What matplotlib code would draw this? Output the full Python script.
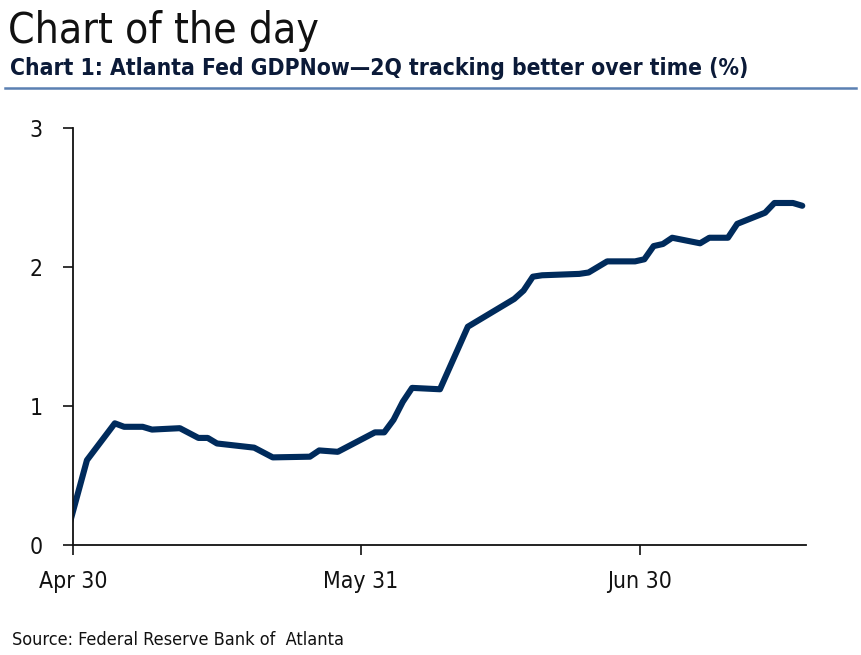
import pandas as pd
import matplotlib
matplotlib.use("Agg")
import matplotlib.pyplot as plt

# GDPNow 2Q estimate, by update date (%)
dates = ["2019-04-29", "2019-05-01", "2019-05-04", "2019-05-05", "2019-05-07",
         "2019-05-08", "2019-05-11", "2019-05-13", "2019-05-14", "2019-05-15",
         "2019-05-19", "2019-05-21", "2019-05-25", "2019-05-26", "2019-05-28",
         "2019-06-01", "2019-06-02", "2019-06-03", "2019-06-04", "2019-06-05",
         "2019-06-08", "2019-06-11", "2019-06-16", "2019-06-17", "2019-06-18",
         "2019-06-19", "2019-06-23", "2019-06-24", "2019-06-26", "2019-06-29",
         "2019-06-30", "2019-07-01", "2019-07-02", "2019-07-03", "2019-07-06",
         "2019-07-07", "2019-07-09", "2019-07-10", "2019-07-13", "2019-07-14",
         "2019-07-16", "2019-07-17"]
gdpnow = [0.12, 0.61, 0.875, 0.85, 0.85,
          0.83, 0.84, 0.77, 0.77, 0.73,
          0.70, 0.63, 0.635, 0.68, 0.67,
          0.81, 0.81, 0.90, 1.03, 1.13,
          1.12, 1.57, 1.77, 1.83, 1.93,
          1.94, 1.95, 1.96, 2.04, 2.04,
          2.055, 2.15, 2.165, 2.21, 2.17,
          2.21, 2.21, 2.31, 2.39, 2.46,
          2.46, 2.44]
tick_dates = ["2019-04-30", "2019-05-31", "2019-06-30"]
tick_labels = ["Apr 30", "May 31", "Jun 30"]
y_ticks = [0, 1, 2, 3]

FONT = dict(family="DejaVu Sans", stretch="condensed")
NAVY = "#002b5c"

fig = plt.figure(figsize=(8.61, 6.55), dpi=100)
ax = fig.add_axes([0.0848, 0.168, 0.8513, 0.6367])

# points sit in the middle of their day, Excel-style
x = pd.to_datetime(dates) + pd.Timedelta(hours=12)
ax.plot(x, gdpnow, color=NAVY, linewidth=4.4, solid_joinstyle="round",
        solid_capstyle="round")

ax.set_xlim(pd.Timestamp("2019-04-30"), pd.Timestamp("2019-04-30") + pd.Timedelta(days=78.9))
ax.set_ylim(0, 3)
ax.set_xticks(pd.to_datetime(tick_dates))
ax.set_xticklabels(tick_labels)
ax.set_yticks(y_ticks)
ax.set_yticklabels([str(v) for v in y_ticks])

for side in ["top", "right"]:
    ax.spines[side].set_visible(False)
for side in ["left", "bottom"]:
    ax.spines[side].set_linewidth(1.3)
    ax.spines[side].set_color("#111111")
ax.tick_params(axis="y", direction="out", length=7, width=1.2, pad=15,
               labelsize=16.5, colors="#111111")
ax.tick_params(axis="x", direction="out", length=7, width=1.2, pad=11,
               labelsize=16.5, colors="#111111")
for lab in ax.get_xticklabels() + ax.get_yticklabels():
    lab.set_fontfamily(FONT["family"])
    lab.set_fontstretch(FONT["stretch"])

fig.text(0.009, 0.935, "Chart of the day", fontsize=30.5, color="#111111",
         va="baseline", **FONT)
fig.text(0.012, 0.885, "Chart 1: Atlanta Fed GDPNow\u20142Q tracking better over time (%)",
         fontsize=16.4, fontweight="bold", color="#0b1a38", va="baseline", **FONT)
fig.add_artist(plt.Line2D([0.006, 0.994], [0.866, 0.866], transform=fig.transFigure,
                          color="#5b80b2", linewidth=1.8))
fig.text(0.014, 0.015, "Source: Federal Reserve Bank of  Atlanta", fontsize=13,
         color="#111111", va="baseline", **FONT)

fig.savefig("out.png", dpi=100)
